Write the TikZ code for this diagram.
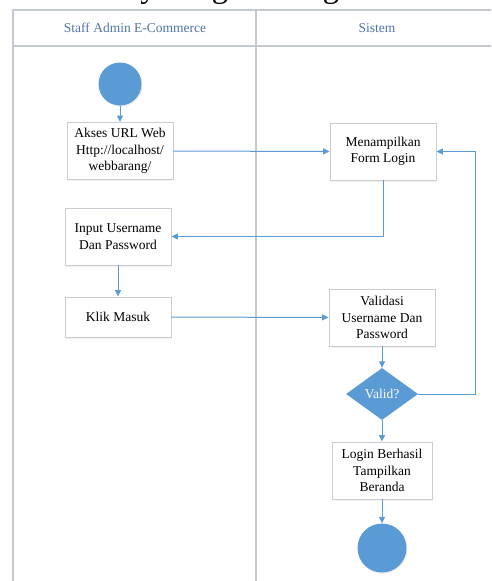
\documentclass[tikz,border=0pt]{standalone}
\usepackage{fontspec}
\setmainfont{Liberation Serif}
\usetikzlibrary{arrows.meta,shapes.geometric,shadows}

\definecolor{flowblue}{HTML}{5B9BD5}
\definecolor{lanegray}{HTML}{C4C8CF}
\definecolor{boxgray}{HTML}{C9CDD3}
\definecolor{headblue}{HTML}{4F74A6}

\tikzset{
  lane/.style={draw=lanegray, line width=1.3pt},
  lanehead/.style={text=headblue, font=\fontsize{13.5}{16}\selectfont},
  actbox/.style={draw=boxgray, line width=0.9pt, fill=white, align=center,
    inner sep=0pt, minimum width=106pt, minimum height=57pt,
    font=\fontsize{13.5}{16.5}\selectfont,
    drop shadow={shadow xshift=1pt, shadow yshift=-1.5pt, opacity=0.10}},
  terminal/.style={circle, fill=flowblue, draw=none, inner sep=0pt,
    drop shadow={shadow xshift=0.8pt, shadow yshift=-1.2pt, opacity=0.15}},
  decision/.style={diamond, fill=flowblue, draw=none, inner sep=0pt, aspect=1.4,
    minimum width=72pt, minimum height=52pt, text=white,
    font=\fontsize{13.5}{16}\selectfont},
  flow/.style={draw=flowblue, line width=1pt, -{Triangle[length=6.5pt,width=6pt]}},
}

\begin{document}
\begin{tikzpicture}[x=1pt, y=-1pt]
  \useasboundingbox (0,0) rectangle (491,581);
  \clip (0,0) rectangle (491,581);
  \fill[white] (0,0) rectangle (491,581);

  % heading above the diagram, mostly beyond the top edge
  \node[anchor=base west, inner sep=0pt, font=\fontsize{32.5}{38}\selectfont]
    (title) at (50,-2.5) {Activity Diagram Login};

  % swimlanes
  \draw[lane] (13,590) -- (13,10) -- (495,10);
  \draw[lane] (13,46) -- (495,46);
  \draw[lane] (256,10) -- (256,590);
  \node[lanehead] (laneA) at (135,28) {Staff Admin E-Commerce};
  \node[lanehead] (laneB) at (377,28) {Sistem};

  % activities
  \node[terminal, minimum size=43pt] (start) at (120,84) {};
  \node[actbox] (akses) at (120,151) {Akses URL Web\\Http://localhost/\\webbarang/};
  \node[actbox] (form) at (383,151.5) {Menampilkan\\Form Login};
  \node[actbox] (input) at (118,236.5) {Input Username\\Dan Password};
  \node[actbox, minimum height=40pt] (klik) at (118,317) {Klik Masuk};
  \node[actbox] (valid) at (382,317.5) {Validasi\\Username Dan\\Password};
  \node[decision] (dec) at (382,394) {Valid?};
  \node[actbox, minimum width=100pt] (login) at (382,470.5) {Login Berhasil\\Tampilkan\\Beranda};
  \node[terminal, minimum size=49pt] (end) at (382,548) {};
  \coordinate (loop) at (475,394);

  % control flow
  \draw[flow] (start) -- (akses);
  \draw[flow] (akses) -- (form);
  \draw[flow] (form.south) |- (input.east);
  \draw[flow] (input) -- (klik);
  \draw[flow] (klik) -- (valid);
  \draw[flow] (valid) -- (dec);
  \draw[flow] (dec.east) -- (loop) |- (form.east);
  \draw[flow] (dec) -- (login);
  \draw[flow] (login) -- (end);
\end{tikzpicture}
\end{document}
